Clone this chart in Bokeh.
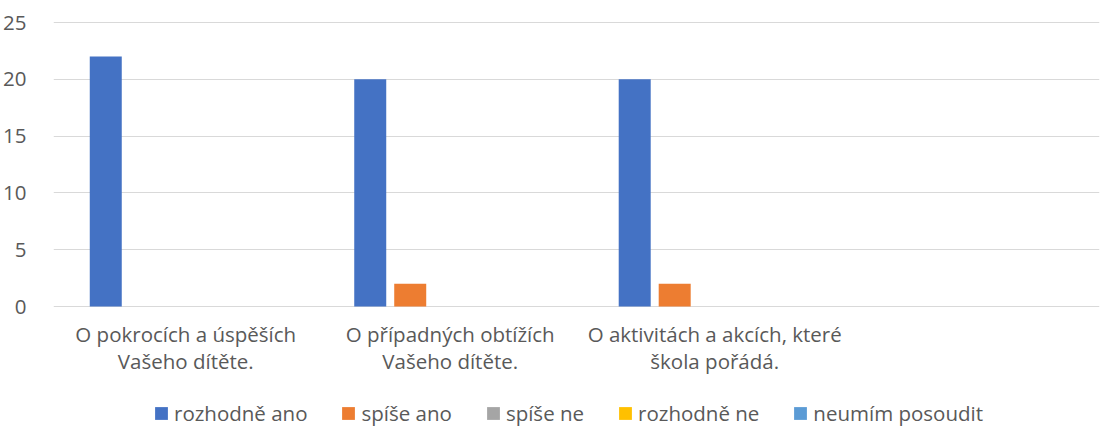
from bokeh.plotting import figure
from bokeh.models import Range1d, FixedTicker, Legend, LegendItem
from bokeh.core.properties import value
from bokeh.embed import file_html
from bokeh.resources import INLINE

categories = [
    "O pokrocích a úspěších\nVašeho dítěte.",
    "O případných obtížích\nVašeho dítěte.",
    "O aktivitách a akcích, které\nškola pořádá.",
]
series_names = ["rozhodně ano", "spíše ano", "spíše ne", "rozhodně ne", "neumím posoudit"]
colors = ["#4472C4", "#ED7D31", "#A5A5A5", "#FFC000", "#5B9BD5"]
rozhodne_ano = [22, 20, 20]
spise_ano = [0, 2, 2]
spise_ne = [0, 0, 0]
rozhodne_ne = [0, 0, 0]
neumim_posoudit = [0, 0, 0]
series_values = [rozhodne_ano, spise_ano, spise_ne, rozhodne_ne, neumim_posoudit]
y_ticks = [0, 5, 10, 15, 20, 25]

FONT = "Open Sans"
TXT = "#595959"
GRID = "#d9d9d9"

# layout (pixels)
FRAME_W, FRAME_H = 1046, 408
PX_PER_UNIT = 11.36
TOP_EXTRA = 0.18
y_top = 25 + TOP_EXTRA
y_bottom = y_top - FRAME_H / PX_PER_UNIT

p = figure(
    frame_width=FRAME_W, frame_height=FRAME_H,
    x_range=Range1d(0, 3.955), y_range=Range1d(y_bottom, y_top),
    output_backend="svg", toolbar_location=None,
    min_border_left=48, min_border_right=1, min_border_top=20, min_border_bottom=0,
    outline_line_color=None,
)

pitch = 0.1512
bw = 0.121
renderers = []
for k, (name, vals, col) in enumerate(zip(series_names, series_values, colors)):
    xs = [i + 0.5 + (k - 2) * pitch for i in range(len(categories))]
    r = p.vbar(x=xs, top=vals, bottom=0, width=bw, fill_color=col, line_color=None)
    renderers.append((name, r))

# category labels (two lines each) below the zero line
lines1 = [c.split("\n")[0] for c in categories]
lines2 = [c.split("\n")[1] for c in categories]
cx = [i + 0.5 for i in range(len(categories))]
for lines, off_px in ((lines1, 27), (lines2, 54)):
    p.text(x=cx, y=[-off_px / PX_PER_UNIT] * len(cx), text=lines,
           text_align="center", text_baseline="middle",
           text_font=value(FONT), text_font_size="20.5px", text_color=TXT)

p.yaxis.ticker = FixedTicker(ticks=y_ticks)
p.yaxis.axis_line_color = None
p.yaxis.major_tick_line_color = None
p.yaxis.minor_tick_line_color = None
p.yaxis.major_label_standoff = 21
p.yaxis.major_label_text_font = FONT
p.yaxis.major_label_text_font_size = "20.5px"
p.yaxis.major_label_text_color = TXT
p.xaxis.visible = False

p.xgrid.grid_line_color = None
p.ygrid.ticker = FixedTicker(ticks=y_ticks)
p.ygrid.grid_line_color = GRID
p.ygrid.grid_line_width = 1

legend = Legend(
    items=[LegendItem(label=n, renderers=[r]) for n, r in renderers],
    orientation="horizontal",
    location=(100, 1),
    glyph_width=16, glyph_height=16, label_height=14,
    label_standoff=5, spacing=33,
    label_text_font=FONT, label_text_font_size="20.5px", label_text_color=TXT,
    border_line_color=None, background_fill_alpha=0,
    padding=0, margin=0,
)
p.add_layout(legend, "center")

open("out.html", "w").write(file_html(p, INLINE))
